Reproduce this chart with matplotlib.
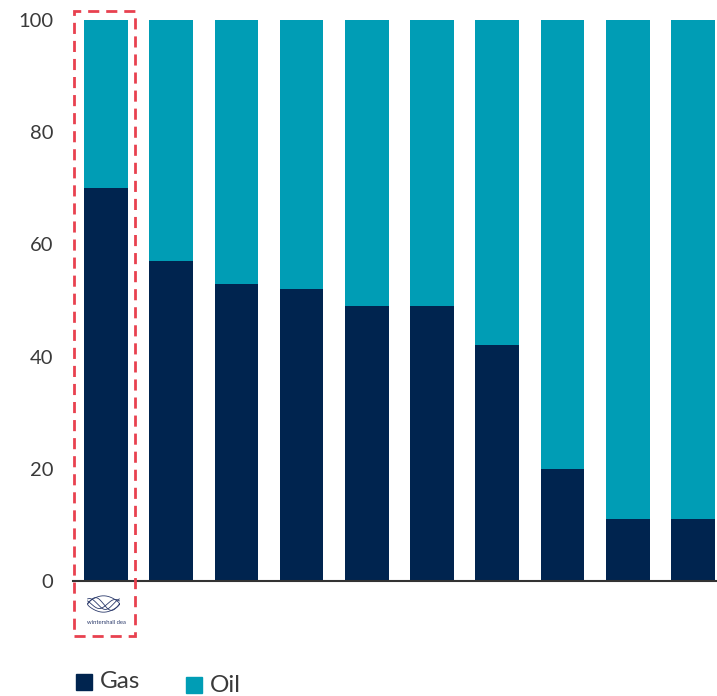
import numpy as np
import matplotlib.pyplot as plt
from matplotlib.patches import Rectangle

NAVY = "#00244f"
TEAL = "#009db5"
RED = "#e8414f"

# share of production, percent
companies = ["Wintershall Dea", "Peer 1", "Peer 2", "Peer 3", "Peer 4",
             "Peer 5", "Peer 6", "Peer 7", "Peer 8", "Peer 9"]
gas_share = [70, 57, 53, 52, 49, 49, 42, 20, 11, 11]
oil_share = [100 - g for g in gas_share]
y_ticks = [0, 20, 40, 60, 80, 100]

plt.rcParams["font.family"] = ["Lato", "DejaVu Sans"]

fig = plt.figure(figsize=(7.17, 6.96), dpi=100)
ax = fig.add_axes([73 / 717, 1 - 581 / 696, 1 - 73 / 717, (581 - 20) / 696])

x = np.arange(len(companies))
ax.bar(x, gas_share, width=0.67, color=NAVY, zorder=2)
ax.bar(x, oil_share, width=0.67, bottom=gas_share, color=TEAL, zorder=2)

ax.set_xlim(-0.506, 9.37)
ax.set_ylim(0, 100)
ax.set_yticks(y_ticks)
ax.set_xticks([])
ax.tick_params(axis="y", length=0, pad=14, labelsize=14.5, labelcolor="#3a3a3a")
for side in ("left", "right", "top"):
    ax.spines[side].set_visible(False)
ax.spines["bottom"].set_color("#333333")
ax.spines["bottom"].set_linewidth(1.5)
ax.spines["bottom"].set_zorder(3)

# dashed highlight around the first company
ax.add_patch(Rectangle((-0.49, -9.8), 0.935, 111.4, fill=False, edgecolor=RED,
                       linestyle=(0, (4, 2.5)), linewidth=2, clip_on=False, zorder=4))

# small logo under the highlighted bar
logo = fig.add_axes([86 / 717, 1 - 614 / 696, 35 / 717, 20 / 696])
logo.set_axis_off()
t = np.linspace(0, 1, 200)
for amp, phase in [(0.35, 0.0), (0.3, 1.2), (0.25, 2.4)]:
    logo.plot(t, 0.5 + amp * np.sin(2 * np.pi * t + phase), color="#2b3a6b", lw=0.6)
th = np.linspace(0, 2 * np.pi, 200)
logo.plot(0.5 + 0.5 * np.cos(th), 0.5 + 0.45 * np.sin(th) * (1 - 0.4 * np.cos(th) ** 2),
          color="#2b3a6b", lw=0.6)
logo.set_xlim(-0.05, 1.05)
logo.set_ylim(-0.05, 1.05)
fig.text(106 / 717, 1 - 622 / 696, "wintershall dea", fontsize=4.2, color="#2b3a6b",
         ha="center", va="center")

# legend
fig.patches.append(Rectangle((76 / 717, 1 - 690 / 696), 16 / 717, 16 / 696,
                             transform=fig.transFigure, color=NAVY))
fig.text(100 / 717, 1 - 682 / 696, "Gas", fontsize=17.5, color="#3a3a3a", va="center")
fig.patches.append(Rectangle((186 / 717, 1 - 693 / 696), 16 / 717, 16 / 696,
                             transform=fig.transFigure, color=TEAL))
fig.text(210 / 717, 1 - 685 / 696, "Oil", fontsize=17.5, color="#3a3a3a", va="center")

fig.savefig("out.png", dpi=100)
